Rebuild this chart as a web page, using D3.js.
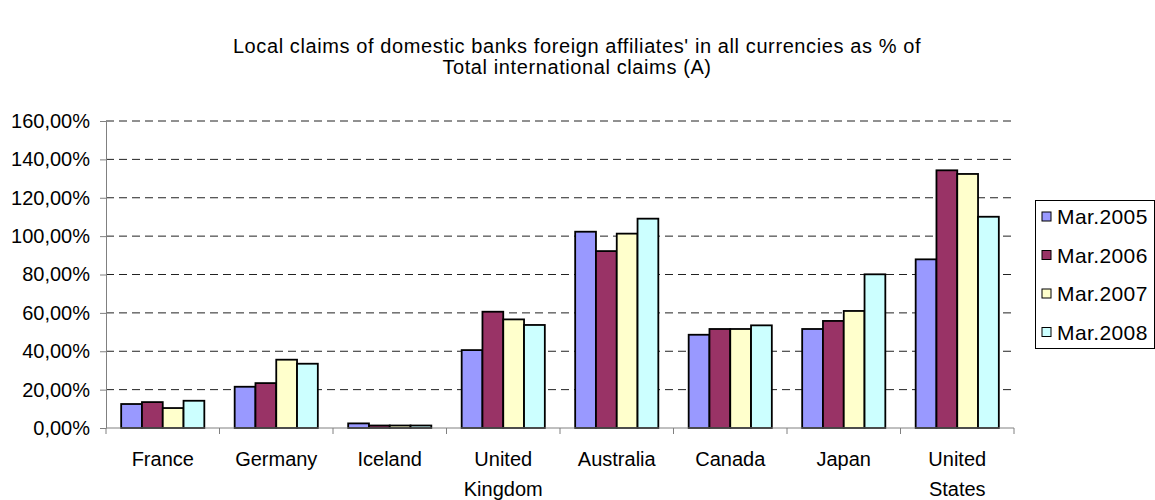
<!DOCTYPE html>
<html>
<head>
<meta charset="utf-8">
<script src="https://cdn.jsdelivr.net/npm/d3@7"></script>
<style>
  body { margin: 0; background: white; }
  text { font-family: "Liberation Sans", Arial, sans-serif; fill: #000; }
</style>
</head>
<body>
<div id="container"></div>
<script>
let w = 1155;
let h = 500;

let countries = [["France"], ["Germany"], ["Iceland"], ["United", "Kingdom"], ["Australia"], ["Canada"], ["Japan"], ["United", "States"]];
let seriesNames = ["Mar.2005", "Mar.2006", "Mar.2007", "Mar.2008"];
let seriesColors = ["#9999ff", "#993366", "#ffffcc", "#ccffff"];

// values in %
let mar2005 = [12.5, 21.5, 2.4, 40.6, 102.3, 48.6, 51.6, 87.9];
let mar2006 = [13.5, 23.4, 1.3, 60.6, 92.2, 51.6, 55.8, 134.3];
let mar2007 = [10.4, 35.6, 1.3, 56.6, 101.3, 51.6, 61.0, 132.4];
let mar2008 = [14.2, 33.5, 1.3, 53.7, 109.1, 53.5, 80.1, 110.1];
let yTicks = [0, 20, 40, 60, 80, 100, 120, 140, 160];

let allSeries = [mar2005, mar2006, mar2007, mar2008];

let viz = d3.select("#container")
  .append("svg")
    .attr("width", w)
    .attr("height", h)
    .style("background-color", "white")
;

let plotLeft = 106, plotRight = 1014, plotTop = 121, plotBottom = 428;

let names = countries.map(c => c.join(" "));
let xScale = d3.scaleBand().domain(names).range([plotLeft, plotRight]).paddingInner(0).paddingOuter(0);
let xInner = d3.scaleBand().domain(d3.range(4)).range([0, xScale.bandwidth()]).paddingInner(0).paddingOuter(0.73);
let yScale = d3.scaleLinear().domain([0, 160]).range([plotBottom, plotTop]);

let locale = d3.formatLocale({decimal: ",", thousands: ".", grouping: [3], currency: ["", ""]});
let fmt = locale.format(".2f");

// title
let title = viz.append("text")
    .attr("x", 577)
    .attr("text-anchor", "middle")
    .style("font-size", "20px")
    .style("letter-spacing", "0.6px")
;
title.append("tspan").attr("x", 577).attr("y", 53).text("Local claims of domestic banks foreign affiliates' in all currencies as % of");
title.append("tspan").attr("x", 577).attr("y", 74).text("Total international claims (A)");

// gridlines
viz.selectAll(".grid").data(yTicks.filter(t => t > 0)).enter()
  .append("line")
    .classed("grid", true)
    .attr("x1", plotLeft)
    .attr("x2", plotRight)
    .attr("y1", d => yScale(d))
    .attr("y2", d => yScale(d))
    .attr("stroke", "#222")
    .attr("stroke-width", 1)
    .attr("stroke-dasharray", "8,5")
;

// y axis
let yAxis = viz.append("g")
    .attr("transform", "translate(" + plotLeft + ",0)")
    .call(d3.axisLeft(yScale).tickValues(yTicks).tickSize(6).tickSizeOuter(0).tickPadding(10).tickFormat(d => fmt(d) + "%"))
;
yAxis.select(".domain").attr("stroke", "#808080");
yAxis.selectAll(".tick line").attr("stroke", "#808080");
yAxis.selectAll(".tick text").style("font-size", "20px").attr("fill", "#000").attr("font-family", "Liberation Sans, Arial, sans-serif");

// bars
let groups = viz.selectAll(".datagroup").data(names).enter()
  .append("g")
    .classed("datagroup", true)
    .attr("transform", d => "translate(" + xScale(d) + ",0)")
;
groups.selectAll("rect").data((d, i) => allSeries.map((s, j) => ({s: j, v: s[i]}))).enter()
  .append("rect")
    .attr("x", d => xInner(d.s))
    .attr("y", d => yScale(d.v))
    .attr("width", xInner.bandwidth())
    .attr("height", d => plotBottom - yScale(d.v))
    .attr("fill", d => seriesColors[d.s])
    .attr("stroke", "#000")
    .attr("stroke-width", 1.8)
;

// x axis
viz.append("line")
    .attr("x1", plotLeft).attr("x2", plotRight)
    .attr("y1", plotBottom).attr("y2", plotBottom)
    .attr("stroke", "#808080")
;
let bounds = names.map(n => xScale(n)).concat([plotRight]);
viz.selectAll(".xtick").data(bounds).enter()
  .append("line")
    .attr("x1", d => d).attr("x2", d => d)
    .attr("y1", plotBottom).attr("y2", plotBottom + 6)
    .attr("stroke", "#808080")
;
let labels = viz.selectAll(".xlabel").data(countries).enter()
  .append("text")
    .classed("xlabel", true)
    .attr("text-anchor", "middle")
    .style("font-size", "20px")
;
labels.selectAll("tspan").data((d, i) => d.map(line => ({line: line, name: names[i]}))).enter()
  .append("tspan")
    .attr("x", d => xScale(d.name) + xScale.bandwidth() / 2)
    .attr("y", (d, i) => 466 + i * 30)
    .text(d => d.line)
;

// legend
viz.append("rect")
    .attr("x", 1035.5).attr("y", 200.5)
    .attr("width", 119).attr("height", 148)
    .attr("fill", "white")
    .attr("stroke", "#000")
    .attr("stroke-width", 1)
;
let legend = viz.selectAll(".legend").data(seriesNames).enter()
  .append("g")
    .classed("legend", true)
    .attr("transform", (d, i) => "translate(1042," + (217 + i * 38.5) + ")")
;
legend.append("rect")
    .attr("x", 0).attr("y", -5)
    .attr("width", 9).attr("height", 9)
    .attr("fill", (d, i) => seriesColors[i])
    .attr("stroke", "#000")
    .attr("stroke-width", 1)
;
legend.append("text")
    .attr("x", 15)
    .attr("y", 7)
    .style("font-size", "21px")
    .style("letter-spacing", "0.4px")
    .text(d => d)
;
</script>
</body>
</html>
